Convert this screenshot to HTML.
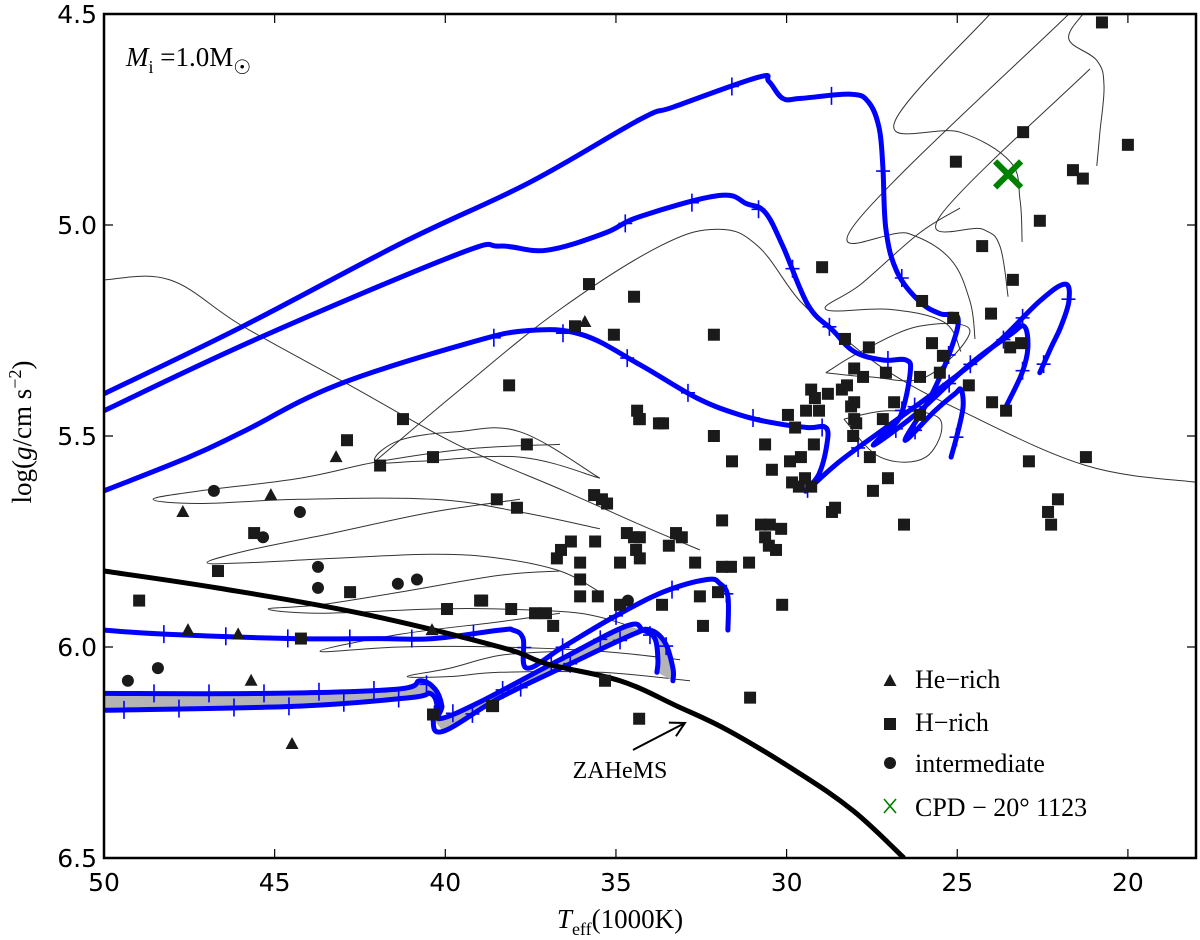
<!DOCTYPE html>
<html><head><meta charset="utf-8">
<style>
html,body{margin:0;padding:0;background:#fff;}
svg{display:block;}
.tl{font-family:"DejaVu Sans","Liberation Sans",sans-serif;font-size:25px;fill:#000;}
.sf{font-family:"Liberation Serif","DejaVu Serif",serif;fill:#000;}
</style></head>
<body>
<svg id="chart" width="1200" height="940" viewBox="0 0 1200 940" xmlns="http://www.w3.org/2000/svg">
<defs><clipPath id="plotclip"><rect x="104" y="14" width="1092" height="844"/></clipPath></defs>
<rect x="0" y="0" width="1200" height="940" fill="#fff"/>
<g id="plot" clip-path="url(#plotclip)"></g>
<g id="axes"></g>
<text class="sf" x="126" y="66" font-size="27"><tspan font-style="italic">M</tspan><tspan font-size="18" dy="7">i</tspan><tspan dy="-7"> =1.0M</tspan><tspan font-size="20" dy="8">☉</tspan></text>
<text class="sf" x="620" y="928" font-size="27" text-anchor="middle"><tspan font-style="italic">T</tspan><tspan font-size="18" dy="7">eff</tspan><tspan dy="-7">(1000K)</tspan></text>
<text class="sf" x="0" y="0" font-size="27" text-anchor="middle" transform="translate(31,432) rotate(-90)">log(<tspan font-style="italic">g</tspan>/cm s<tspan font-size="18" dy="-10">−2</tspan><tspan dy="10">)</tspan></text>
<g id="legend"></g>
</svg>
<script>
// ---- axis ticks ----
const xTicks = [50, 45, 40, 35, 30, 25, 20];
const yTicks = [4.5, 5.0, 5.5, 6.0, 6.5];
const yTickLabels = ["4.5", "5.0", "5.5", "6.0", "6.5"];
// ---- observed stars ----
const hRichT = [20.76,20.0,23.07,25.04,21.61,21.32,22.58,24.27,23.37,28.96,24.01,26.03,25.12,32.13,28.29,27.59,25.74,25.42,23.45,23.13,28.02,27.09,26.09,25.51,24.66,27.76,29.28,28.79,28.38,28.23,29.17,28.02,26.85,23.98,23.57,29.43,29.05,29.96,28.11,28.02,27.18,26.09,29.75,27.96,28.05,33.62,34.30,32.13,29.20,30.63,31.60,30.43,29.90,29.58,27.56,22.90,21.23,29.84,29.46,29.64,29.28,27.03,27.47,28.58,28.67,22.05,22.34,22.25,26.56,31.89,30.75,30.49,30.16,33.24,33.07,33.45,30.63,30.52,30.31,32.68,31.89,31.63,31.10,34.30,34.30,35.79,34.47,36.20,35.06,38.13,41.24,42.88,41.91,40.36,37.61,34.38,34.32,33.74,38.49,37.90,35.64,35.41,35.26,45.60,36.32,35.61,34.68,34.47,36.61,36.73,36.05,34.88,34.41,46.66,36.05,36.05,35.53,34.88,33.65,32.54,32.01,30.13,38.92,38.07,37.37,37.05,36.84,32.45,35.32,31.07,34.32,38.63,48.97,42.79,39.95,38.98,44.23,40.36,38.60];
const hRichG = [4.52,4.81,4.78,4.85,4.87,4.89,4.99,5.05,5.13,5.10,5.21,5.18,5.22,5.26,5.27,5.29,5.28,5.31,5.29,5.28,5.34,5.35,5.36,5.35,5.38,5.36,5.39,5.40,5.39,5.38,5.41,5.42,5.42,5.42,5.44,5.44,5.44,5.45,5.43,5.46,5.46,5.45,5.48,5.47,5.50,5.47,5.46,5.50,5.52,5.52,5.56,5.58,5.56,5.55,5.55,5.56,5.55,5.61,5.60,5.62,5.62,5.60,5.63,5.67,5.68,5.65,5.68,5.71,5.71,5.70,5.71,5.71,5.72,5.73,5.74,5.76,5.74,5.76,5.77,5.80,5.81,5.81,5.80,5.74,5.79,5.14,5.17,5.24,5.26,5.38,5.46,5.51,5.57,5.55,5.52,5.44,5.46,5.47,5.65,5.67,5.64,5.65,5.66,5.73,5.75,5.75,5.73,5.74,5.77,5.79,5.80,5.80,5.77,5.82,5.84,5.88,5.88,5.90,5.90,5.88,5.87,5.90,5.89,5.91,5.92,5.92,5.95,5.95,6.08,6.12,6.17,6.14,5.89,5.87,5.91,5.89,5.98,6.16,6.14];
const heRichT = [43.20,45.11,47.69,47.54,46.07,40.39,45.69,44.49,35.91];
const heRichG = [5.55,5.64,5.68,5.96,5.97,5.96,6.08,6.23,5.23];
const interT = [46.78,44.26,45.34,43.73,43.73,41.39,40.83,48.42,49.30,34.65];
const interG = [5.63,5.68,5.74,5.81,5.86,5.85,5.84,6.05,6.08,5.89];
const cpdT = [23.51];
const cpdG = [4.88];
// ---- ZAHeMS ----
const zahemsT = [50,46.69,42.50,38.40,37.02,34.88,33.21,31.66,29.61,28.02,26.56];
const zahemsG = [5.82,5.86,5.92,6.00,6.04,6.08,6.14,6.20,6.30,6.39,6.50];
// ---- blue evolutionary tracks ----
const trackAT = [50,45.93,41.21,37.55,34.30,33.30,30.84,30.52,30.11,29.58,28.11,27.59,27.29,27.18,27.09,26.77,26.12,25.51,24.98,25.21,25.80,26.53,25.65,25.07,24.89,24.83,24.98,25.18];
const trackAG = [5.40,5.24,5.04,4.90,4.75,4.72,4.65,4.66,4.70,4.70,4.69,4.71,4.77,4.86,5.01,5.11,5.18,5.21,5.22,5.30,5.41,5.51,5.44,5.40,5.39,5.43,5.49,5.55];
const trackBT = [50,45.52,39.66,38.40,37.05,35.35,34.30,31.98,31.16,30.63,30.11,29.37,28.64,28.02,27.18,26.50,26.38,26.65,27.09,27.41,26.09,24.63,23.45,23.04,22.93,23.10,23.57];
const trackBG = [5.44,5.27,5.07,5.05,5.06,5.02,4.98,4.93,4.95,4.97,5.05,5.19,5.25,5.30,5.32,5.32,5.35,5.45,5.49,5.52,5.44,5.33,5.26,5.24,5.29,5.35,5.43];
const trackCT = [50,47.51,45.93,43.20,39.33,37.55,35.99,34.32,32.63,31.37,30.31,29.37,28.85,28.82,29.05,29.43,28.44,27.09,25.39,23.84,22.58,21.84,21.73,21.96,22.25,22.58];
const trackCG = [5.63,5.55,5.49,5.38,5.28,5.25,5.26,5.33,5.41,5.45,5.47,5.48,5.48,5.52,5.59,5.63,5.56,5.48,5.38,5.28,5.18,5.14,5.18,5.24,5.29,5.35];
const trackDT = [50,48.15,44.46,42.00,40.36,38.40,38.02,37.72,37.61,36.55,35.09,33.62,32.33,31.95,31.72,31.72];
const trackDG = [5.96,5.97,5.98,5.98,5.98,5.96,5.96,5.98,6.05,6.00,5.93,5.87,5.84,5.85,5.88,5.96];
const trackE1T = [50,45.22,41.42,40.74,40.30,40.10,40.16,38.98,36.64,34.68,34.21,33.86,33.77,33.80];
const trackE1G = [6.11,6.11,6.10,6.08,6.10,6.14,6.17,6.13,6.03,5.95,5.96,5.98,6.03,6.06];
const trackE2T = [50,44.26,41.03,40.45,40.24,40.36,40.07,38.40,36.35,34.50,34.00,33.56,33.33,33.33];
const trackE2G = [6.15,6.14,6.12,6.11,6.14,6.17,6.20,6.12,6.04,5.97,5.96,5.99,6.05,6.08];
// ---- thin grey tracks ----
const thin1T = [50,48.07,45.93,42.79,39.66,36.52,34.30,32.54];
const thin1G = [5.13,5.13,5.24,5.38,5.52,5.63,5.71,5.77];
const thin2T = [42.06,39.57,36.64,33.71,32.01,30.84,29.61,28.44,26.97,24.89,21.23,17.98];
const thin2G = [5.56,5.39,5.20,5.05,5.01,5.05,5.18,5.26,5.35,5.44,5.57,5.61];
const thin3T = [24.04,26.85,24.92,23.45,23.16,23.10];
const thin3G = [4.50,4.76,4.78,4.85,4.94,5.04];
const thin4T = [21.73,28.02,26.44,25.21,24.63,24.48];
const thin4G = [4.50,5.00,5.02,5.08,5.18,5.27];
const thin5T = [21.32,21.73,20.91,20.70,20.82,20.91];
const thin5G = [4.50,4.56,4.61,4.67,4.78,4.86];
const thin6T = [21.11,25.51,24.25,23.75,23.51];
const thin6G = [4.63,4.98,5.01,5.05,5.17];
const loopAT = [36.64,39.28,41.91,44.26,47.19,48.56,47.19,44.26,40.36,37.81,35.47];
const loopAG = [5.52,5.53,5.56,5.60,5.63,5.65,5.66,5.65,5.65,5.68,5.72];
const loopBT = [37.81,40.36,43.29,45.72,46.98,45.72,43.29,40.36,38.40,36.64,35.47];
const loopBG = [5.65,5.68,5.73,5.77,5.80,5.80,5.79,5.78,5.79,5.82,5.87];
const loopCT = [36.64,38.40,41.33,43.67,45.19,43.67,40.36,38.40,36.05,34.59];
const loopCG = [5.82,5.83,5.87,5.90,5.91,5.92,5.91,5.91,5.92,5.95];
const loopDT = [36.64,38.40,41.33,43.67,41.33,38.40,35.47,33.12];
const loopDG = [5.92,5.94,5.97,6.01,6.00,6.00,6.01,6.03];
const loopET = [36.64,38.40,39.86,41.12,39.86,38.40,35.47,32.83];
const loopEG = [6.01,6.02,6.05,6.07,6.07,6.06,6.06,6.08];
const loopFT = [35.47,37.81,39.66,41.33,42.06,40.74,37.81,35.47];
const loopFG = [5.60,5.49,5.49,5.51,5.56,5.56,5.55,5.60];
const loopGT = [24.89,25.39,26.97,28.85,27.82,26.12,24.92];
const loopGG = [5.30,5.23,5.20,5.20,5.14,5.02,4.96];
const loopHT = [28.85,27.82,26.12,24.63,25.92,27.56,28.85];
const loopHG = [5.35,5.30,5.24,5.25,5.36,5.36,5.35];
const loopIT = [28.32,26.97,25.51,25.92,27.26,28.32];
const loopIG = [5.46,5.44,5.46,5.55,5.55,5.46];
// ---- annotation ----
const arrowT = [34.5, 32.98];
const arrowG = [6.244, 6.18];

const NS = "http://www.w3.org/2000/svg";
const X0 = 104, XS = 34.13, Y0 = 14, YS = 422;
function xs(t){ return X0 + (50 - t) * XS; }
function ys(g){ return Y0 + (g - 4.5) * YS; }
function mk(tag, attrs, parent){
  const e = document.createElementNS(NS, tag);
  for (const k in attrs) e.setAttribute(k, attrs[k]);
  parent.appendChild(e);
  return e;
}
function pts(T, G){ return T.map((t,i)=> xs(t).toFixed(1)+","+ys(G[i]).toFixed(1)).join(" "); }
// Catmull-Rom smooth path
function smooth(T, G){
  const P = T.map((t,i)=>[xs(t), ys(G[i])]);
  let d = `M${P[0][0].toFixed(1)},${P[0][1].toFixed(1)}`;
  for (let i=0;i<P.length-1;i++){
    const p0=P[Math.max(i-1,0)], p1=P[i], p2=P[i+1], p3=P[Math.min(i+2,P.length-1)];
    const k=0.18;
    const c1=[p1[0]+(p2[0]-p0[0])*k, p1[1]+(p2[1]-p0[1])*k];
    const c2=[p2[0]-(p3[0]-p1[0])*k, p2[1]-(p3[1]-p1[1])*k];
    d += `C${c1[0].toFixed(1)},${c1[1].toFixed(1)} ${c2[0].toFixed(1)},${c2[1].toFixed(1)} ${p2[0].toFixed(1)},${p2[1].toFixed(1)}`;
  }
  return d;
}
const plot = document.getElementById("plot");
const axes = document.getElementById("axes");
const legend = document.getElementById("legend");

// thin grey tracks
const thinSets = [[thin1T,thin1G],[thin2T,thin2G],[thin3T,thin3G],[thin4T,thin4G],[thin5T,thin5G],[thin6T,thin6G],[loopAT,loopAG],[loopBT,loopBG],[loopCT,loopCG],[loopDT,loopDG],[loopET,loopEG],[loopFT,loopFG],[loopGT,loopGG],[loopHT,loopHG],[loopIT,loopIG]];
thinSets.forEach(s=>{
  const p = mk("path",{d:smooth(s[0],s[1]),fill:"none",stroke:"#333","stroke-width":"1","stroke-linejoin":"round"},plot);
  
  
});

// gray band between E1 and E2
const band = mk("polygon",{points:pts(trackE1T.concat(trackE2T.slice().reverse()), trackE1G.concat(trackE2G.slice().reverse())),fill:"#b4b4b4",stroke:"none"},plot);



// blue tracks
function drawTrack(T, G, name, spacing, start){
  const p = mk("path",{d:smooth(T,G),fill:"none",stroke:"#0000ff","stroke-width":"5","stroke-linejoin":"round","stroke-linecap":"round"},plot);
  
  
  let acc = 0, next = start;
  for (let i=1;i<T.length;i++){
    const x1=xs(T[i-1]),y1=ys(G[i-1]),x2=xs(T[i]),y2=ys(G[i]);
    const L=Math.hypot(x2-x1,y2-y1);
    while (next <= acc + L){
      const f=(next-acc)/L, x=x1+(x2-x1)*f, y=y1+(y2-y1)*f;
      const tk = mk("path",{d:`M${x-7},${y}H${x+7}M${x},${y-9}V${y+9}`,stroke:"#0000ff","stroke-width":"1.6",fill:"none"},plot);
      
      
      next += spacing;
    }
    acc += L;
  }
}
drawTrack(trackAT,trackAG,"track-a",110,700);
drawTrack(trackBT,trackBG,"track-b",70,560);
drawTrack(trackCT,trackCG,"track-c",70,420);
drawTrack(trackDT,trackDG,"track-d",62,60);
drawTrack(trackE1T,trackE1G,"track-e1",55,50);
drawTrack(trackE2T,trackE2G,"track-e2",55,20);

// ZAHeMS
const z = mk("path",{d:smooth(zahemsT,zahemsG),fill:"none",stroke:"#000","stroke-width":"5","stroke-linejoin":"round"},plot);



// markers
function square(x,y,parent,name){
  const r = mk("rect",{x:x-6,y:y-6,width:12,height:12,fill:"#1a1a1a"},parent);
  
  
}
function tri(x,y,parent,name){
  const r = mk("polygon",{points:`${x},${y-7} ${x-6.5},${y+5} ${x+6.5},${y+5}`,fill:"#1a1a1a"},parent);
  
  
}
function circ(x,y,parent,name){
  const r = mk("circle",{cx:x,cy:y,r:6,fill:"#1a1a1a"},parent);
  
  
}
hRichT.forEach((t,i)=>square(xs(t),ys(hRichG[i]),plot,"h-rich-star"));
heRichT.forEach((t,i)=>tri(xs(t),ys(heRichG[i]),plot,"he-rich-star"));
interT.forEach((t,i)=>circ(xs(t),ys(interG[i]),plot,"intermediate-star"));
cpdT.forEach((t,i)=>{
  const x=xs(t), y=ys(cpdG[i]);
  const c = mk("path",{d:`M${x-13},${y-13}L${x+13},${y+13}M${x-13},${y+13}L${x+13},${y-13}`,stroke:"#008000","stroke-width":"6",fill:"none"},plot);
  
  
});

// ZAHeMS annotation
{
  const x1=xs(arrowT[0]),y1=ys(arrowG[0]),x2=xs(arrowT[1]),y2=ys(arrowG[1]);
  const ang=Math.atan2(y2-y1,x2-x1);
  const h=16;
  const a1x=x2-h*Math.cos(ang-0.5),a1y=y2-h*Math.sin(ang-0.5),a2x=x2-h*Math.cos(ang+0.5),a2y=y2-h*Math.sin(ang+0.5);
  const ar = mk("path",{d:`M${x1},${y1}L${x2},${y2}M${a1x},${a1y}L${x2},${y2}L${a2x},${a2y}`,stroke:"#000","stroke-width":"2",fill:"none"},axes);
  
  
  const tx = mk("text",{x:x1-13,y:y1+28,"text-anchor":"middle","class":"sf","font-size":"24"},axes);
  tx.textContent = "ZAHeMS";
  
  
}

// axes frame & ticks
const frame = mk("rect",{x:104,y:14,width:1092,height:844,fill:"none",stroke:"#000","stroke-width":"2.5"},axes);


xTicks.forEach(t=>{
  const x=xs(t);
  const tk = mk("path",{d:`M${x},858V849M${x},14V23`,stroke:"#000","stroke-width":"1.2"},axes);
  
  
  const lb = mk("text",{x:x,y:891,"text-anchor":"middle","class":"tl"},axes);
  lb.textContent = String(t);
  
  
});
yTicks.forEach((g,i)=>{
  const y=ys(g);
  const tk = mk("path",{d:`M104,${y}H113M1196,${y}H1187`,stroke:"#000","stroke-width":"1.2"},axes);
  
  
  const lb = mk("text",{x:97,y:y+9,"text-anchor":"end","class":"tl"},axes);
  lb.textContent = yTickLabels[i];
  
  
});

// legend
const legLabels = ["He−rich","H−rich","intermediate","CPD − 20° 1123"];
const legY = [679, 722, 763, 807];
legLabels.forEach((lab,i)=>{
  const y = legY[i], x = 890;
  const g = mk("g",{},legend);
  
  
  if (i===0) tri(x,y+2,g,"legend-marker-he-rich");
  if (i===1) square(x,y+2,g,"legend-marker-h-rich");
  if (i===2) circ(x,y,g,"legend-marker-intermediate");
  if (i===3){
    const c = mk("path",{d:`M${x-6},${y-8}L${x+6},${y+6}M${x-6},${y+6}L${x+6},${y-8}`,stroke:"#008000","stroke-width":"1.6",fill:"none"},g);
    
    
  }
  const t = mk("text",{x:915,y:y+9,"class":"sf","font-size":"26"},g);
  t.textContent = lab;
  
  
});
</script>
</body></html>
